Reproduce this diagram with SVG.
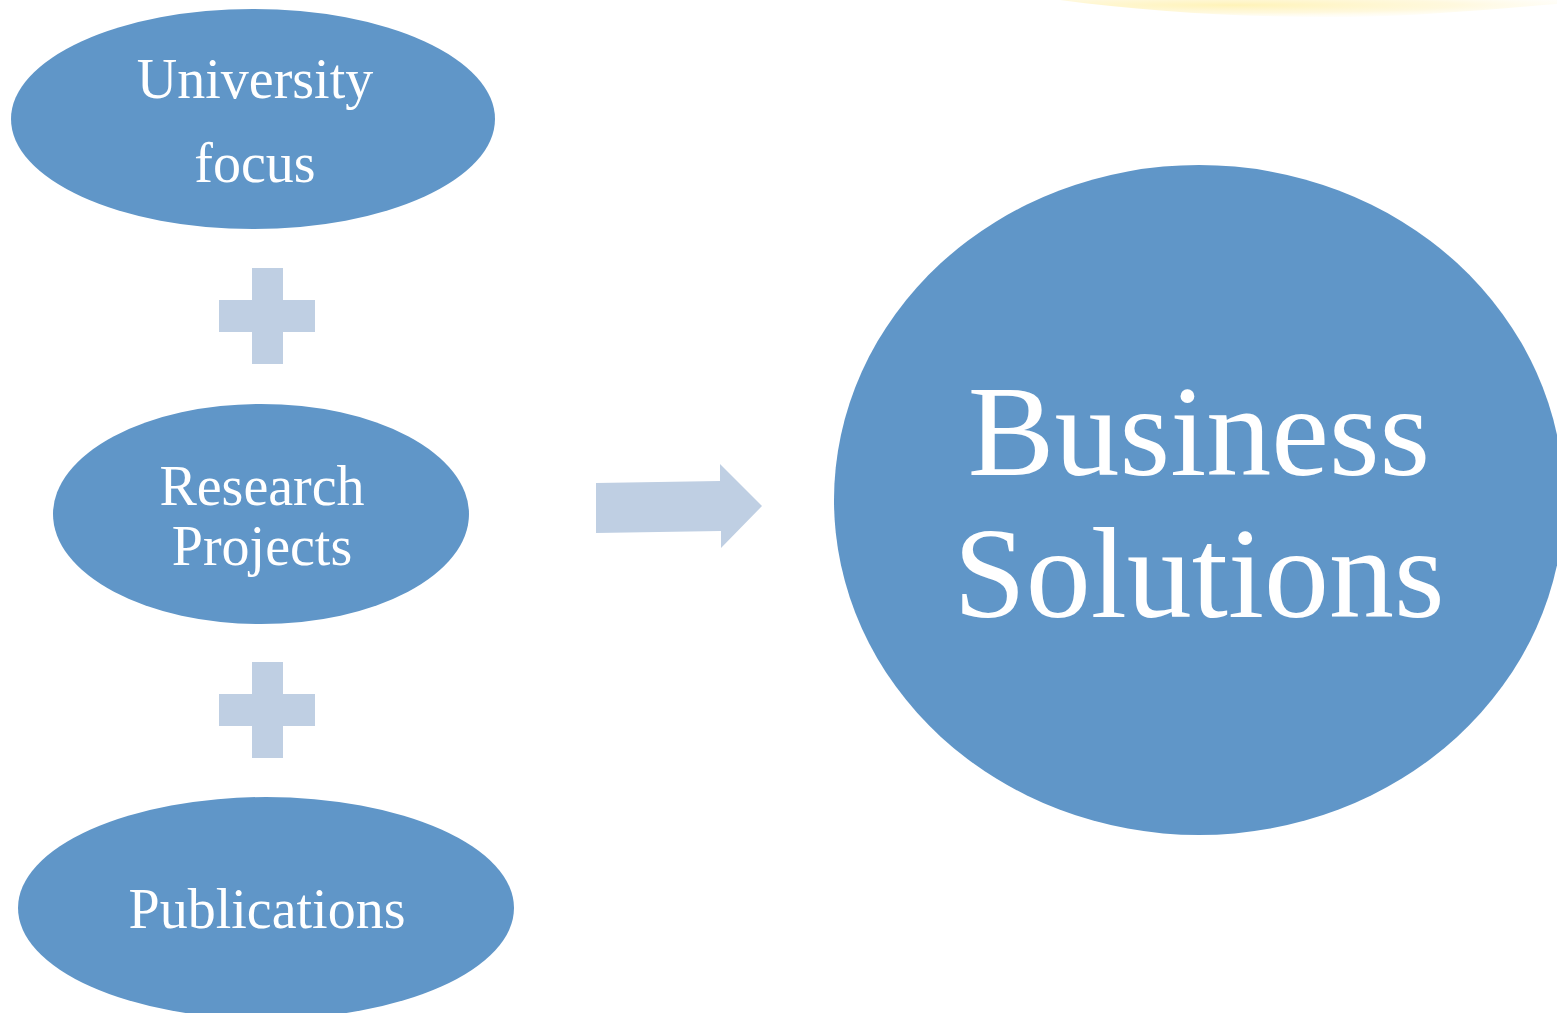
<svg xmlns="http://www.w3.org/2000/svg" width="1557" height="1013" viewBox="0 0 1557 1013">
<defs>
<style>
.node{fill:#6096C8;}
.op{fill:#BFCFE3;}
.t{font-family:"Liberation Serif","Times New Roman",serif;fill:#fff;text-anchor:middle;}
.s{font-size:56px;}
.b{font-size:130px;}
</style>
<radialGradient id="glow" cx="0.35" cy="0.3" r="0.75">
<stop offset="0" stop-color="#FFF3B8" stop-opacity="1"/>
<stop offset="0.6" stop-color="#FFF7D6" stop-opacity="0.8"/>
<stop offset="1" stop-color="#FFFDF3" stop-opacity="0.3"/>
</radialGradient>
</defs>
<rect width="1557" height="1013" fill="#fff"/>
<path d="M1060,0 C1150,12 1250,18 1350,17 C1420,16 1480,10 1557,4 L1557,0 Z" fill="url(#glow)"/>
<g id="connectors">
<path class="op" d="M252,268 H283 V300 H315 V332 H283 V364 H252 V332 H219 V300 H252 Z"/>
<path class="op" d="M252,662 H283 V694 H315 V726 H283 V758 H252 V726 H219 V694 H252 Z"/>
<path class="op" d="M596,483 L720,481 L720,464 L762,506 L721,548 L721,531 L596,533 Z"/>
</g>
<g id="university-focus">
<ellipse class="node" cx="253" cy="119" rx="242" ry="110"/>
<text class="t s" x="255" y="98">University</text>
<text class="t s" x="255" y="182">focus</text>
</g>
<g id="research-projects">
<ellipse class="node" cx="261" cy="514" rx="208" ry="110"/>
<text class="t s" x="262" y="505">Research</text>
<text class="t s" x="262" y="565">Projects</text>
</g>
<g id="publications">
<ellipse class="node" cx="266" cy="908" rx="248" ry="111"/>
<text class="t s" x="267" y="928">Publications</text>
</g>
<g id="business-solutions">
<ellipse class="node" cx="1199" cy="500" rx="365" ry="335"/>
<text class="t b" x="1199" y="475">Business</text>
<text class="t b" x="1199" y="617">Solutions</text>
</g>
</svg>
